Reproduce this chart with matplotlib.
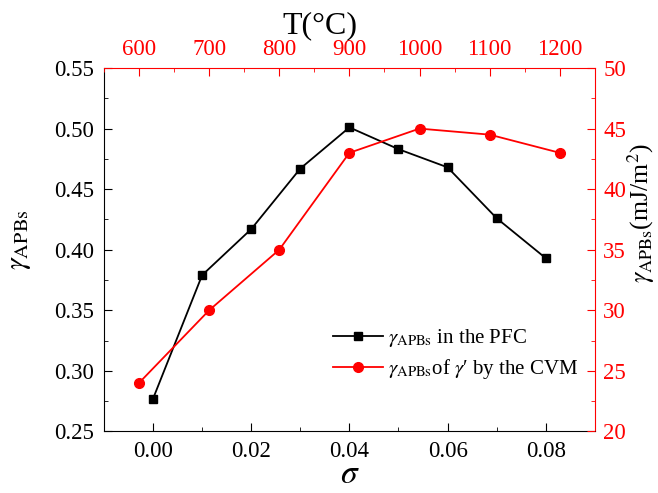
import matplotlib
matplotlib.use("Agg")
import matplotlib.pyplot as plt
from matplotlib.ticker import MultipleLocator, FormatStrFormatter

plt.rcParams['font.family'] = ['Liberation Serif', 'DejaVu Serif']
plt.rcParams['mathtext.fontset'] = 'stix'

# black series: gamma_APBs in the PFC vs sigma
sigma = [0.00, 0.01, 0.02, 0.03, 0.04, 0.05, 0.06, 0.07, 0.08]
gamma_pfc = [0.277, 0.379, 0.417, 0.467, 0.501, 0.483, 0.468, 0.426, 0.393]

# red series: gamma_APBs of gamma' by the CVM vs temperature
temp = [600, 700, 800, 900, 1000, 1100, 1200]
gamma_cvm = [24.0, 30.0, 35.0, 43.0, 45.0, 44.5, 43.0]

fig = plt.figure(figsize=(6.58, 4.93), dpi=100)
pos = [0.158, 0.125, 0.746, 0.737]

# bottom / left axes (sigma)
ax = fig.add_axes(pos)
l1, = ax.plot(sigma, gamma_pfc, color='black', marker='s', markersize=6, lw=1.3,
              label=r'$\gamma_{\rm APBs}$ in the PFC')
ax.set_xlim(-0.01, 0.09)
ax.set_ylim(0.25, 0.55)
ax.xaxis.set_major_locator(MultipleLocator(0.02))
ax.xaxis.set_minor_locator(MultipleLocator(0.01))
ax.yaxis.set_major_locator(MultipleLocator(0.05))
ax.yaxis.set_minor_locator(MultipleLocator(0.025))
ax.xaxis.set_major_formatter(FormatStrFormatter('%.2f'))
ax.yaxis.set_major_formatter(FormatStrFormatter('%.2f'))
ax.tick_params(which='both', direction='in', top=False, right=False, labelsize=16.5)
ax.tick_params(which='major', length=6, pad=7)
ax.tick_params(which='minor', length=3)
ax.spines['top'].set_color('red')
ax.spines['right'].set_color('red')
ax.set_xlabel(r'$\sigma$', fontsize=24, labelpad=-2)
ax.set_ylabel(r'$\gamma_{\rm APBs}$', fontsize=21)
ax.yaxis.set_label_coords(-0.145, 0.527)

# top / right axes (temperature)
ax2 = fig.add_axes(pos, frameon=False)
l2, = ax2.plot(temp, gamma_cvm, color='red', marker='o', markersize=7, lw=1.3,
               label=r"$\gamma_{\rm APBs}$of $\gamma$′ by the CVM")
ax2.set_xlim(550, 1250)
ax2.set_ylim(20, 50)
ax2.xaxis.tick_top()
ax2.yaxis.tick_right()
ax2.xaxis.set_label_position('top')
ax2.yaxis.set_label_position('right')
ax2.xaxis.set_major_locator(MultipleLocator(100))
ax2.xaxis.set_minor_locator(MultipleLocator(50))
ax2.yaxis.set_major_locator(MultipleLocator(5))
ax2.yaxis.set_minor_locator(MultipleLocator(2.5))
ax2.tick_params(which='both', direction='in', colors='red', labelsize=16.5,
                bottom=False, left=False)
ax2.tick_params(which='major', length=6, pad=6)
ax2.tick_params(which='minor', length=3)
ax2.set_xlabel('T(°C)', fontsize=23)
ax2.xaxis.set_label_coords(0.44, 1.095)
ax2.set_ylabel(r'$\gamma_{\rm APBs}$(mJ/m$^2$)', fontsize=18.5)
ax2.yaxis.set_label_coords(1.063, 0.60)

ax2.legend(handles=[l1, l2], loc='upper left', bbox_to_anchor=(0.45, 0.31),
           borderaxespad=0, frameon=False, fontsize=15, handlelength=2.4,
           handletextpad=0.25, labelspacing=0.4)

fig.savefig('out.png', dpi=100)
